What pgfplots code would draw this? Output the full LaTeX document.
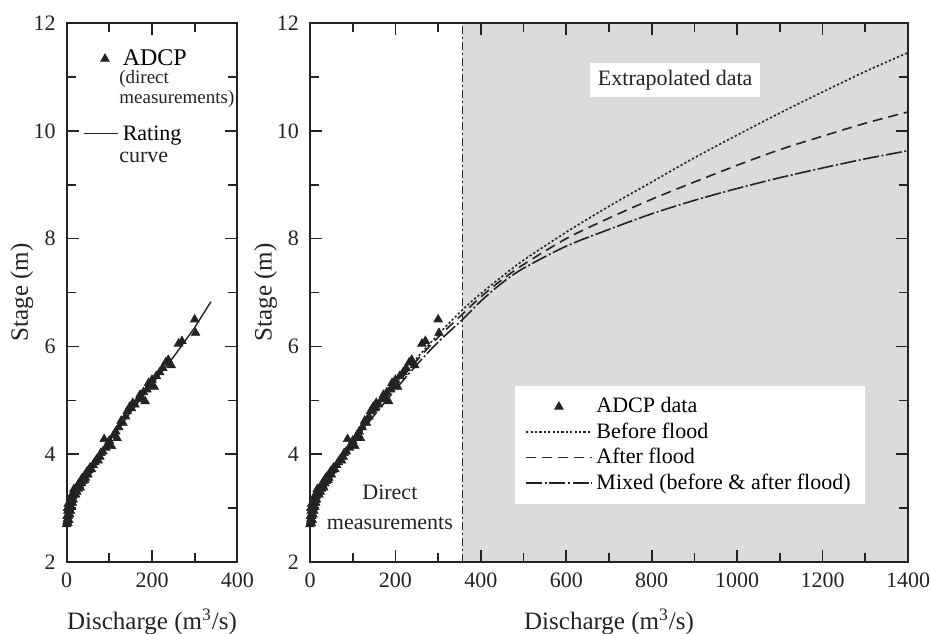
\documentclass[border=0pt]{standalone}
\usepackage{fontspec}
\setmainfont{Liberation Serif}
\usepackage{pgfplots}
\usepackage{pgfplotstable}
\pgfplotsset{compat=1.18}
\definecolor{bggray}{RGB}{219,219,219}
\definecolor{ink}{RGB}{35,35,35}

\pgfplotstableread{
Q h
0 2.70
1 2.75
2 2.80
3 2.72
4 2.85
5 2.90
3 2.95
6 3.00
8 3.05
7 2.88
1 2.85
2 3.00
4 3.08
5 2.78
9 2.95
11 3.02
10 3.10
12 3.15
9 3.20
13 3.10
14 3.22
16 3.28
15 3.16
18 3.25
17 3.35
20 3.35
22 3.32
21 3.25
24 3.30
25 3.40
27 3.36
28 3.45
30 3.42
32 3.38
33 3.50
35 3.46
36 3.55
38 3.50
40 3.58
42 3.52
44 3.56
45 3.62
48 3.68
50 3.62
52 3.70
55 3.75
58 3.72
62 3.80
66 3.85
70 3.90
74 3.88
78 3.95
80 4.02
85 4.05
88 4.28
92 4.12
96 4.18
100 4.25
105 4.15
110 4.35
115 4.42
118 4.30
122 4.50
128 4.62
132 4.58
138 4.70
142 4.80
148 4.88
152 4.85
155 4.95
160 4.92
168 5.02
172 5.10
176 5.05
180 5.15
184 4.98
188 5.20
192 5.32
195 5.28
200 5.38
205 5.25
210 5.45
218 5.52
225 5.60
232 5.70
238 5.75
245 5.65
262 6.05
270 6.10
300 6.50
302 6.25
}\adcp

\pgfplotstableread{
Q h
0 2.75
10 3.02
25 3.30
50 3.66
75 3.97
100 4.24
150 4.78
200 5.30
250 5.80
300 6.35
338 6.83
}\rating

\pgfplotstableread{
Q before after mixed
0 2.70 2.70 2.70
10 3.02 3.00 2.98
25 3.32 3.30 3.27
50 3.68 3.66 3.63
75 3.98 3.96 3.93
100 4.25 4.23 4.20
150 4.80 4.77 4.72
200 5.30 5.27 5.20
250 5.78 5.74 5.66
300 6.22 6.17 6.08
357 6.68 6.60 6.50
400 6.98 6.92 6.84
450 7.30 7.24 7.18
500 7.60 7.52 7.45
600 8.12 8.00 7.86
700 8.60 8.38 8.17
800 9.05 8.73 8.46
900 9.50 9.05 8.71
1000 9.92 9.36 8.93
1100 10.33 9.65 9.13
1200 10.72 9.90 9.31
1300 11.10 10.14 9.48
1400 11.45 10.35 9.63
}\curves

\pgfplotsset{
  myaxis/.style={
    scale only axis, height=269.5pt,
    ymin=2, ymax=12,
    ytick={2,4,...,12}, minor ytick={3,5,...,11},
    tick align=inside, tick pos=both,
    major tick length=6pt, minor tick length=4.5pt,
    every tick/.style={ink, line width=0.8pt},
    axis line style={ink, line width=1pt},
    tick label style={font=\fontsize{11}{13}\selectfont, text=ink},
    label style={font=\fontsize{12.5}{14}\selectfont, text=ink},
    yticklabel style={xshift=-2pt},
    xticklabel style={yshift=-2pt},
    /pgf/number format/assume math mode=true,
    /pgf/number format/1000 sep={},
    axis on top,
    clip=false,
  },
  adcpstyle/.style={only marks, mark=triangle*, mark size=2.5pt,
    mark options={fill=ink, draw=ink, line width=0.3pt}},
  leftmarklegend/.style={legend image code/.code={\draw[##1] plot coordinates {(0.37cm,0pt)};}},
  leftlinelegend/.style={legend image code/.code={\draw[##1] (0cm,0pt) -- (0.6cm,0pt);}},
  rightmarklegend/.style={legend image code/.code={\draw[##1] plot coordinates {(0.575cm,0cm)};}},
  rightlinelegend/.style={legend image code/.code={\draw[##1] (0cm,0cm) -- (1.15cm,0cm);}},
}

\begin{document}
\begin{tikzpicture}
\useasboundingbox (-33.3pt,-35.5pt) rectangle (432.2pt,281pt);

% ---------- left panel ----------
\begin{axis}[myaxis,
  at={(0,0)}, anchor=south west,
  width=85.4pt,
  xmin=0, xmax=400, xtick={0,200,400}, minor xtick={100,300},
  xlabel={Discharge (m\textsuperscript{3}/s)},
  ylabel={Stage (m)},
  xlabel style={at={(axis description cs:0.5,-0.111)}, anchor=center},
  ylabel style={at={(axis description cs:-0.262,0.5)}, anchor=center},
  legend style={at={(axis cs:38,11.594)}, anchor=north west, draw=none, fill=none,
    inner sep=0pt, row sep=24pt,
    font=\fontsize{11}{12}\selectfont,
    cells={anchor=west, inner xsep=1.5pt, inner ysep=0pt, text height=8pt, text depth=2pt}},
]
\addplot[adcpstyle, leftmarklegend] table[x=Q,y=h] {\adcp};
\addlegendentry{\fontsize{12}{12}\selectfont ADCP}
\addplot[ink, line width=0.7pt, leftlinelegend] table[x=Q,y=h] {\rating};
\addlegendentry{Rating}

\node[anchor=west, inner sep=0pt, font=\fontsize{9.5}{10}\selectfont, text=ink]
  at (axis cs:122.6,10.96) {(direct};
\node[anchor=west, inner sep=0pt, font=\fontsize{9.5}{10}\selectfont, text=ink]
  at (axis cs:122.6,10.59) {measurements)};
\node[anchor=west, inner sep=0pt, font=\fontsize{11}{12}\selectfont, text=ink]
  at (axis cs:122.6,9.50) {curve};
\end{axis}

% ---------- right panel ----------
\begin{axis}[myaxis,
  at={(121.7pt,0)}, anchor=south west,
  width=299pt,
  xmin=0, xmax=1400, xtick={0,200,...,1400}, minor xtick={100,300,...,1300},
  xlabel={Discharge (m\textsuperscript{3}/s)},
  ylabel={Stage (m)},
  xlabel style={at={(axis description cs:0.5,-0.111)}, anchor=center},
  ylabel style={at={(axis description cs:-0.074,0.5)}, anchor=center},
  legend style={at={(axis cs:480,5.28)}, anchor=north west, draw=none, fill=white,
    inner xsep=5pt, inner ysep=4pt, row sep=-0.5pt,
    font=\fontsize{11}{12}\selectfont,
    cells={anchor=west}},
]
\addplot[draw=none, fill=bggray, forget plot] coordinates {(357,2) (1400,2) (1400,12) (357,12)} -- cycle;
\addplot[ink, line width=0.6pt, dash pattern=on 4pt off 1.5pt on 1pt off 1.5pt, forget plot]
  coordinates {(357,2) (357,12)};

\addplot[adcpstyle, rightmarklegend] table[x=Q,y=h] {\adcp};
\addlegendentry{ADCP data}
\addplot[ink, line width=0.8pt, smooth, dash pattern=on 1.1pt off 1.1pt, rightlinelegend]
  table[x=Q,y=before] {\curves};
\addlegendentry{Before flood}
\addplot[ink, line width=0.8pt, smooth, dash pattern=on 5pt off 3pt, rightlinelegend]
  table[x=Q,y=after] {\curves};
\addlegendentry{After flood}
\addplot[ink, line width=0.8pt, smooth, dash pattern=on 8pt off 1.3pt on 1pt off 1.3pt, rightlinelegend]
  table[x=Q,y=mixed] {\curves};
\addlegendentry{Mixed (before \& after flood)}

\node[fill=white, inner xsep=4pt, inner ysep=3.5pt, font=\fontsize{11}{13}\selectfont, text=ink]
  at (axis cs:855,10.94) {Extrapolated data};
\node[align=center, font=\fontsize{11}{15}\selectfont, text=ink]
  at (axis cs:187,3.02) {Direct\\measurements};
\end{axis}
\end{tikzpicture}
\end{document}
